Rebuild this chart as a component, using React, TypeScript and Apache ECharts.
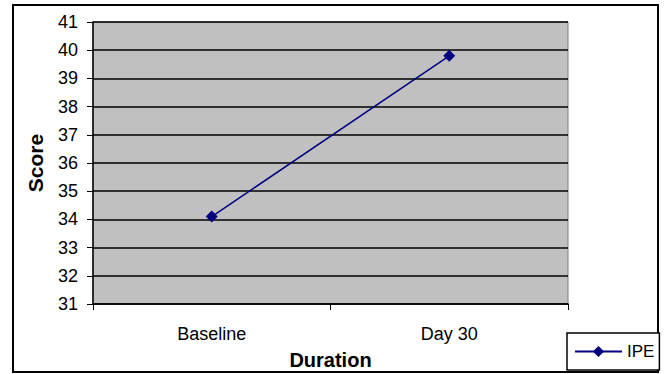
import React, { useEffect, useRef } from "react";
import * as echarts from "echarts";

const categories = ["Baseline", "Day 30"];
const ipeValues = [34.1, 39.8];
const seriesName = "IPE";
const yMin = 31;
const yMax = 41;
const yInterval = 1;

export default function App() {
  const ref = useRef<HTMLDivElement>(null);
  useEffect(() => {
    if (!ref.current) return;
    const chart = echarts.init(ref.current, undefined, { renderer: "svg" });
    const font = "Liberation Sans, Arial, sans-serif";
    chart.setOption({
      animation: false,
      backgroundColor: "#ffffff",
      textStyle: { fontFamily: font, color: "#000" },
      graphic: [
        {
          type: "rect",
          shape: { x: 13, y: 5, width: 645, height: 367 },
          style: { fill: "none", stroke: "#000", lineWidth: 2 },
          silent: true,
          z: -1,
        },
      ],
      grid: {
        left: 93,
        top: 22,
        right: 98,
        bottom: 70,
        outerBoundsMode: "none",
        containLabel: false,
        show: true,
        backgroundColor: "#c0c0c0",
        borderColor: "#808080",
        borderWidth: 1,
      },
      legend: {
        left: 567,
        top: 333,
        orient: "horizontal",
        padding: [10, 5, 10, 7],
        itemWidth: 47,
        itemHeight: 14,
        itemGap: 0,
        borderColor: "#000",
        borderWidth: 1.5,
        backgroundColor: "#fff",
        textStyle: { fontFamily: font, fontSize: 17, color: "#000" },
        data: [seriesName],
      },
      xAxis: {
        type: "category",
        data: categories,
        boundaryGap: true,
        name: "Duration",
        nameLocation: "middle",
        nameGap: 46,
        nameTextStyle: { fontFamily: font, fontSize: 20, fontWeight: "bold", color: "#000" },
        axisLine: { show: true, lineStyle: { color: "#000", width: 1.5 } },
        axisTick: { show: true, inside: false, length: 6, interval: 0, alignWithLabel: false, lineStyle: { color: "#000" } },
        axisLabel: { fontFamily: font, fontSize: 18, color: "#000", margin: 21 },
        splitLine: { show: false },
      },
      yAxis: {
        type: "value",
        min: yMin,
        max: yMax,
        interval: yInterval,
        name: "Score",
        nameLocation: "middle",
        nameGap: 47,
        nameRotate: 90,
        nameTextStyle: { fontFamily: font, fontSize: 21, fontWeight: "bold", color: "#000" },
        axisLine: { show: true, lineStyle: { color: "#000", width: 1.5 } },
        axisTick: { show: true, inside: false, length: 6, lineStyle: { color: "#000" } },
        axisLabel: { fontFamily: font, fontSize: 18, color: "#000", margin: 15 },
        splitLine: { show: true, lineStyle: { color: "#000", width: 1.5 } },
      },
      series: [
        {
          name: seriesName,
          type: "line",
          data: ipeValues,
          symbol: "diamond",
          symbolSize: 12,
          itemStyle: { color: "#000080" },
          lineStyle: { color: "#000080", width: 1.5 },
        },
      ],
    });
    return () => chart.dispose();
  }, []);
  return (
    <div
      ref={ref}
      style={{ position: "fixed", left: 0, top: 0, width: 666, height: 374 }}
    />
  );
}
